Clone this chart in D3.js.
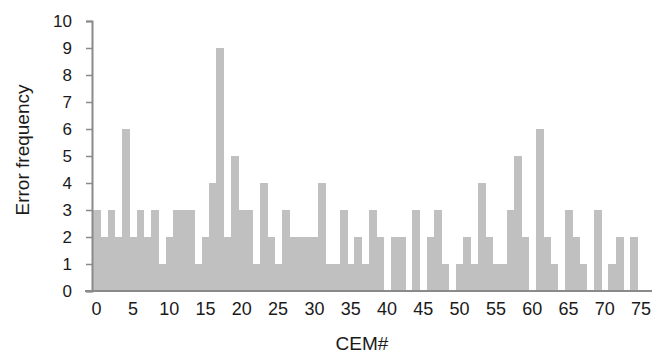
<!DOCTYPE html>
<html>
<head>
<meta charset="utf-8">
<script src="https://cdn.jsdelivr.net/npm/d3@7"></script>
<style>
  body { margin: 0; background: #fff; }
  svg { display: block; font-family: "Liberation Sans", Arial, sans-serif; }
</style>
</head>
<body>
<svg id="chart" width="672" height="360"></svg>
<script>
// CEM# slots on the axis (0..76), bars only where there is a value
const categories = [
  0, 1, 2, 3, 4, 5, 6, 7, 8, 9, 10, 11, 12, 13, 14, 15, 16, 17, 18, 19,
  20, 21, 22, 23, 24, 25, 26, 27, 28, 29, 30, 31, 32, 33, 34, 35, 36, 37, 38, 39,
  40, 41, 42, 43, 44, 45, 46, 47, 48, 49, 50, 51, 52, 53, 54, 55, 56, 57, 58, 59,
  60, 61, 62, 63, 64, 65, 66, 67, 68, 69, 70, 71, 72, 73, 74, 75, 76
];

const errorFreq = [
  3, 2, 3, 2, 6, 2, 3, 2, 3, 1,
  2, 3, 3, 3, 1, 2, 4, 9, 2, 5,
  3, 3, 1, 4, 2, 1, 3, 2, 2, 2,
  2, 4, 1, 1, 3, 1, 2, 1, 3, 2,
  0, 2, 2, 0, 3, 0, 2, 3, 1, 0,
  1, 2, 1, 4, 2, 1, 1, 3, 5, 2,
  0, 6, 2, 1, 0, 3, 2, 1, 0, 3,
  0, 1, 2, 0, 2
];

const xTickLabels = ["0", "5", "10", "15", "20", "25", "30", "35", "40", "45", "50", "55", "60", "65", "70", "75"];
const yTicks = [0, 1, 2, 3, 4, 5, 6, 7, 8, 9, 10];

const axisColor = '#8a8a8a';
const textColor = '#1a1a1a';

const svg = d3.select('#chart');

const x = d3.scaleBand()
  .domain(categories)
  .range([93, 652])
  .paddingInner(0)
  .paddingOuter(0);

const y = d3.scaleLinear()
  .domain([0, 10])
  .range([291, 21]);

const data = errorFreq.map((v, i) => ({ cem: categories[i], value: v }));

// bars
svg.append('g')
  .attr('shape-rendering', 'crispEdges')
  .selectAll('rect')
  .data(data.filter(d => d.value > 0))
  .enter().append('rect')
  .attr('x', d => x(d.cem))
  .attr('y', d => y(d.value))
  .attr('width', x.bandwidth() + 0.6)
  .attr('height', d => y(0) - y(d.value))
  .attr('fill', '#c0c0c0');

// y axis
const yAxis = svg.append('g')
  .attr('transform', 'translate(92,0)')
  .call(d3.axisLeft(y).tickValues(yTicks).tickSize(6).tickPadding(14).tickFormat(d3.format('d')));
yAxis.select('.domain').attr('stroke', axisColor).attr('stroke-width', 2);
yAxis.selectAll('.tick line').attr('stroke', axisColor).attr('stroke-width', 1.5);
yAxis.selectAll('.tick text')
  .attr('fill', textColor)
  .style('font-size', '17px')
  .attr('font-family', '"Liberation Sans", Arial, sans-serif');

// x axis
svg.append('line')
  .attr('x1', 85)
  .attr('x2', 652)
  .attr('y1', y(0))
  .attr('y2', y(0))
  .attr('stroke', axisColor)
  .attr('stroke-width', 2);

svg.append('g')
  .selectAll('text')
  .data(xTickLabels)
  .enter().append('text')
  .attr('x', d => x(+d) + x.bandwidth() / 2)
  .attr('y', 315)
  .attr('text-anchor', 'middle')
  .attr('fill', textColor)
  .style('font-size', '18px')
  .text(d => d);

// axis titles
svg.append('text')
  .attr('x', 362)
  .attr('y', 350)
  .attr('text-anchor', 'middle')
  .attr('fill', textColor)
  .style('font-size', '19px')
  .text('CEM#');

svg.append('text')
  .attr('transform', 'translate(29,150) rotate(-90)')
  .attr('text-anchor', 'middle')
  .attr('fill', textColor)
  .style('font-size', '19px')
  .text('Error frequency');
</script>
</body>
</html>
